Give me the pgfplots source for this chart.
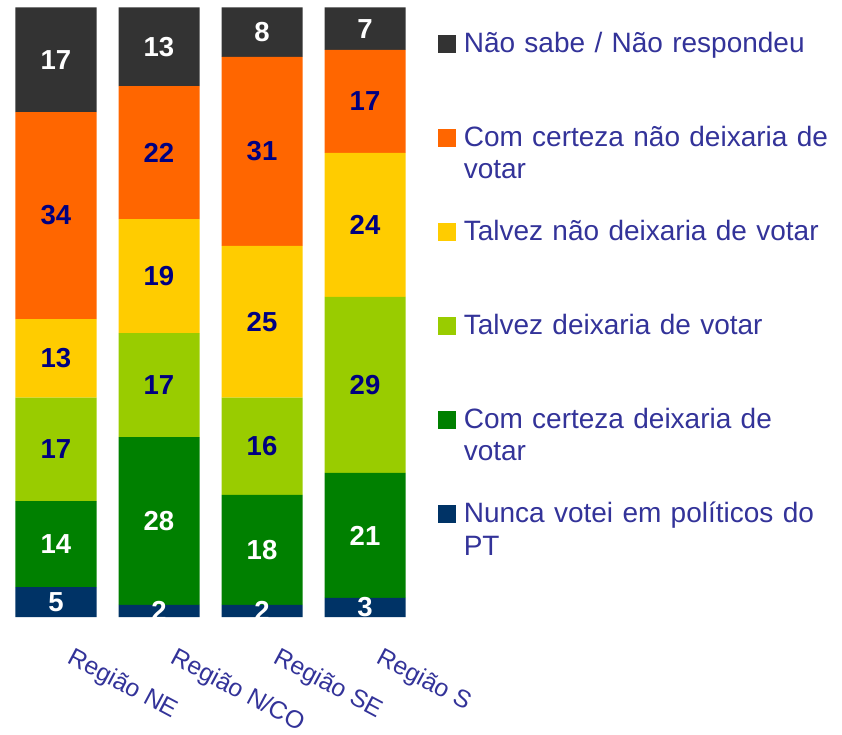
\documentclass[border=0pt]{standalone}
\usepackage{pgfplots}
\usepackage{pgfplotstable}
\pgfplotsset{compat=1.18}
\usepackage{fontspec}
\setmainfont{Liberation Sans}
\definecolor{cnavy}{HTML}{003366}
\definecolor{cgreen}{HTML}{008000}
\definecolor{clgreen}{HTML}{99CC00}
\definecolor{cyellow}{HTML}{FFCC00}
\definecolor{corange}{HTML}{FF6600}
\definecolor{cgray}{HTML}{333333}
\definecolor{clabel}{HTML}{000080}
\definecolor{ctext}{HTML}{333399}

\pgfplotstableread{
x navy green lgreen yellow orange gray
0 4.92 14.11 16.95 12.91 33.96 17.15
1 1.97 27.56 17.06 18.70 21.82 12.89
2 1.97 18.05 15.96 24.89 31.01 8.12
3 3.12 20.51 28.88 23.63 16.90 6.96
}\datatable

\begin{document}
\begin{tikzpicture}
\useasboundingbox (-4.5pt,-118pt) rectangle (837.5pt,617pt);
\begin{axis}[
  at={(0pt,0pt)}, anchor=south west,
  scale only axis, width=412pt, height=609.5pt,
  ybar stacked, bar width=81pt,
  xmin=-0.5, xmax=3.5, ymin=0, ymax=100,
  axis line style={draw=none},
  ytick=\empty,
  xtick={0,1,2,3},
  xticklabels={Região NE, Região N/CO, Região SE, Região S},
  major tick length=0pt,
  xtick style={draw=none},
  xticklabel style={font=\fontsize{24.8}{28}\selectfont, text=ctext, inner sep=0pt, anchor=north west, xshift=19pt, yshift=-29pt, rotate=-28},
  point meta=rawy,
  nodes near coords={\pgfmathprintnumber[fixed,precision=0,assume math mode=true]{\pgfplotspointmeta}},
  every node near coord/.append style={font=\fontsize{27.5}{30}\selectfont\bfseries, anchor=center, inner sep=0pt},
  reverse legend,
  legend image code/.code={\fill[#1] (0pt,0pt) rectangle (17.5pt,17.5pt);},
  legend cell align=left,
  legend style={draw=none, fill=none, inner sep=0pt, outer sep=0pt,
     at={(1.0529,0.9603)}, anchor=north west, row sep=0pt, column sep=8pt,
     cells={anchor=base west},
     nodes={text width=370pt, align=left, inner sep=0pt, text height=21pt, text depth=73pt,
            font=\fontsize{28}{32.3}\selectfont, text=ctext}},
]
\addplot[fill=cnavy, draw=none, every node near coord/.append style={text=white}] table[x=x,y=navy]{\datatable};
\addlegendentry{Nunca votei em políticos do PT}
\addplot[fill=cgreen, draw=none, every node near coord/.append style={text=white}] table[x=x,y=green]{\datatable};
\addlegendentry{Com certeza deixaria de votar}
\addplot[fill=clgreen, draw=none, every node near coord/.append style={text=clabel}] table[x=x,y=lgreen]{\datatable};
\addlegendentry{Talvez deixaria de votar}
\addplot[fill=cyellow, draw=none, every node near coord/.append style={text=clabel}] table[x=x,y=yellow]{\datatable};
\addlegendentry{Talvez não deixaria de votar}
\addplot[fill=corange, draw=none, every node near coord/.append style={text=clabel}] table[x=x,y=orange]{\datatable};
\addlegendentry{Com certeza não deixaria de votar}
\addplot[fill=cgray, draw=none, every node near coord/.append style={text=white}] table[x=x,y=gray]{\datatable};
\addlegendentry{Não sabe / Não respondeu}
\end{axis}
\end{tikzpicture}
\end{document}
